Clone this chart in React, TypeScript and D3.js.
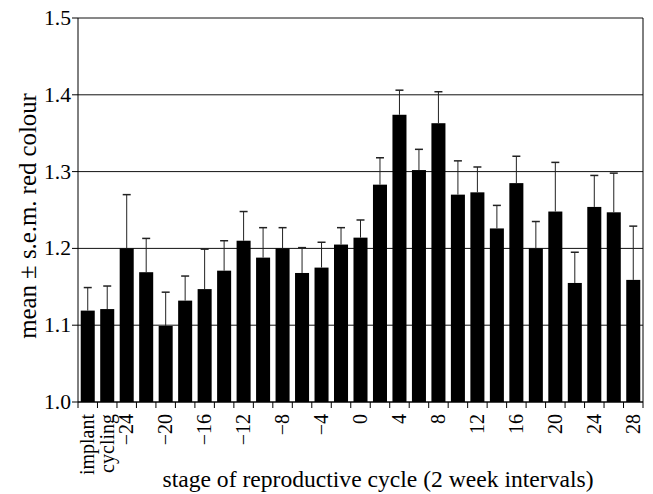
import React from "react";
import * as d3 from "d3";

const categories: string[] = [
  "implant", "cycling",
  "−24", "−22", "−20", "−18", "−16", "−14", "−12", "−10", "−8", "−6", "−4", "−2",
  "0", "2", "4", "6", "8", "10", "12", "14", "16", "18", "20", "22", "24", "26", "28",
];
const tickLabels: string[] = [
  "implant", "cycling",
  "−24", "", "−20", "", "−16", "", "−12", "", "−8", "", "−4", "",
  "0", "", "4", "", "8", "", "12", "", "16", "", "20", "", "24", "", "28",
];
const means: number[] = [
  1.119, 1.121, 1.200, 1.169, 1.099, 1.132, 1.147, 1.171, 1.210, 1.188, 1.200, 1.168, 1.175, 1.205,
  1.214, 1.283, 1.374, 1.302, 1.363, 1.270, 1.273, 1.226, 1.285, 1.200, 1.248, 1.155, 1.254, 1.247, 1.159,
];
const sems: number[] = [
  0.030, 0.030, 0.070, 0.044, 0.044, 0.032, 0.052, 0.039, 0.038, 0.039, 0.027, 0.033, 0.033, 0.022,
  0.023, 0.035, 0.032, 0.027, 0.041, 0.044, 0.033, 0.030, 0.035, 0.035, 0.064, 0.040, 0.041, 0.051, 0.070,
];
const yTicks: number[] = [1.0, 1.1, 1.2, 1.3, 1.4, 1.5];

const W = 653;
const H = 494;
const M = { left: 78, right: 643, top: 18, bottom: 402 };
const TXT: React.CSSProperties = { fontFamily: '"Liberation Serif"', fontSize: 20 };

export default function App() {
  const x = d3
    .scaleBand<number>()
    .domain(d3.range(categories.length))
    .range([M.left, M.right])
    .paddingInner(0.28)
    .paddingOuter(0.14);
  const y = d3.scaleLinear().domain([1.0, 1.5]).range([M.bottom, M.top]);
  const step = x.step();
  const bw = x.bandwidth();
  const fmt = d3.format(".1f");

  return (
    <svg
      width={W}
      height={H}
      style={{ position: "absolute", left: 0, top: 0, background: "#fff" }}
    >
      {yTicks.map((t) => (
        <line key={"g" + t} x1={M.left} x2={M.right} y1={y(t)} y2={y(t)} stroke="#111" strokeWidth={1} />
      ))}
      {means.map((m, i) => (
        <rect key={"b" + i} x={x(i)!} y={y(m)} width={bw} height={y(1.0) - y(m)} fill="#000" />
      ))}
      {means.map((m, i) => {
        const cx = x(i)! + bw / 2;
        return (
          <g key={"e" + i} stroke="#222" strokeWidth={1}>
            <line x1={cx} x2={cx} y1={y(m)} y2={y(m + sems[i])} />
            <line x1={cx - 4} x2={cx + 4} y1={y(m + sems[i])} y2={y(m + sems[i])} strokeWidth={1.5} />
          </g>
        );
      })}
      <line x1={M.left} x2={M.left} y1={M.top} y2={M.bottom} stroke="#000" />
      <line x1={M.right} x2={M.right} y1={M.top} y2={M.bottom} stroke="#000" />
      <line x1={M.left} x2={M.right} y1={M.bottom} y2={M.bottom} stroke="#000" />
      {yTicks.map((t) => (
        <g key={"yt" + t}>
          <line x1={M.left - 6} x2={M.left} y1={y(t)} y2={y(t)} stroke="#000" />
          <text
            transform={`translate(${M.left - 7},${y(t)}) scale(1.08,1)`}
            dy="0.35em"
            textAnchor="end"
            style={TXT}
            fill="#000"
          >
            {fmt(t)}
          </text>
        </g>
      ))}
      {d3.range(categories.length + 1).map((i) => {
        const xx = M.left + x.paddingOuter() * step - (x.paddingInner() * step) / 2 + i * step;
        const xc = i === 0 ? M.left : i === categories.length ? M.right : xx;
        return <line key={"xt" + i} x1={xc} x2={xc} y1={M.bottom} y2={M.bottom + 6} stroke="#000" />;
      })}
      {tickLabels.map((lab, i) =>
        lab ? (
          <text
            key={"xl" + i}
            transform={`translate(${x(i)! + bw / 2},${M.bottom + 12}) rotate(-90)`}
            textAnchor="end"
            dy="0.33em"
            style={TXT}
            fill="#000"
          >
            {lab}
          </text>
        ) : null
      )}
      <text
        transform={`translate(36,216) rotate(-90) scale(1.24)`}
        textAnchor="middle"
        style={TXT}
        fill="#000"
      >
        mean ± s.e.m. red colour
      </text>
      <text transform={`translate(378,487) scale(1.18)`} textAnchor="middle" style={TXT} fill="#000">
        stage of reproductive cycle (2 week intervals)
      </text>
    </svg>
  );
}
